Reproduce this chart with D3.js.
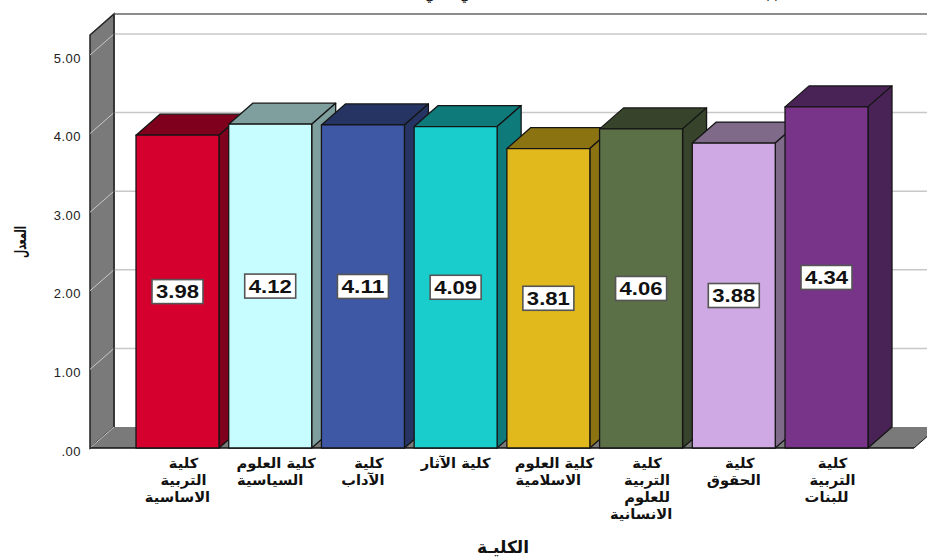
<!DOCTYPE html>
<html>
<head>
<meta charset="utf-8">
<script src="https://cdn.jsdelivr.net/npm/d3@7"></script>
<style>
  html, body { margin: 0; padding: 0; background: #fff; }
  svg { display: block; }
</style>
</head>
<body>
<div id="chart"></div>
<script>
// values
const categories = ["basic", "politics", "arts", "archaeology", "islamic", "humanities", "law", "girls"];
const values = [3.98, 4.12, 4.11, 4.09, 3.81, 4.06, 3.88, 4.34];
const categoryLines = [
  ["كلية", "التربية", "الاساسية"],
  ["كلية العلوم", "السياسية"],
  ["كلية", "الآداب"],
  ["كلية الآثار"],
  ["كلية العلوم", "الاسلامية"],
  ["كلية", "التربية", "للعلوم", "الانسانية"],
  ["كلية", "الحقوق"],
  ["كلية", "التربية", "للبنات"]
];
const frontColors = ["#d6002f", "#c8fdff", "#3e58a5", "#19cdcd", "#e1b91c", "#5c7048", "#cfa9e3", "#783489"];
const sideColors = ["#7f001c", "#7f9f9f", "#253463", "#0f7a7a", "#8c7312", "#37432b", "#7f6a8a", "#4a2356"];
const yTicks = [0, 1, 2, 3, 4, 5];
const xTitle = "الكليـة";
const yTitle = "المعدل";

const width = 927,
  height = 559,
  dx = 24, // depth of the 3D box
  dy = 21,
  wallTop = 35, // front edge of the side wall
  floorRight = 914;

const svg = d3.select("#chart").append("svg")
  .attr("width", width)
  .attr("height", height)
  .attr("viewBox", [0, 0, width, height].join(" "));

const xScale = d3.scaleBand()
  .domain(categories)
  .range([136, 868])
  .paddingInner(0.105);

const yScale = d3.scaleLinear()
  .domain([0, 5])
  .range([448, 55]);

const y0 = yScale(0),
  x0 = 90;

const poly = pts => pts.map(p => p.join(",")).join(" ");

// title is cut off by the top edge, only the low strokes show
svg.append("g")
  .attr("font-family", "'DejaVu Sans', sans-serif")
  .attr("font-size", 13)
  .attr("fill", "#111")
  .attr("text-anchor", "middle")
  .selectAll("text")
  .data([[430, "ي"], [465, "ي"], [772, "( )"]])
  .join("text")
  .attr("x", d => d[0])
  .attr("y", 0)
  .text(d => d[1]);

// side wall
svg.append("polygon")
  .attr("points", poly([[x0, wallTop], [x0 + dx, wallTop - dy], [x0 + dx, y0 - dy], [x0, y0]]))
  .attr("fill", "#7a7a7a")
  .attr("stroke", "#222")
  .attr("stroke-width", 1.5);

// floor
svg.append("polygon")
  .attr("points", poly([[x0, y0], [floorRight, y0], [floorRight + dx, y0 - dy], [x0 + dx, y0 - dy]]))
  .attr("fill", "#7a7a7a");

// grid on the back wall and down the side wall
const grid = svg.append("g").attr("stroke", "#c8c8c8").attr("stroke-width", 1.5);
grid.selectAll(".back")
  .data(yTicks.filter(d => d > 0))
  .join("line")
  .attr("class", "back")
  .attr("x1", x0 + dx)
  .attr("x2", width)
  .attr("y1", d => yScale(d) - dy)
  .attr("y2", d => yScale(d) - dy);
grid.selectAll(".side")
  .data(yTicks)
  .join("line")
  .attr("class", "side")
  .attr("x1", x0)
  .attr("x2", x0 + dx)
  .attr("y1", d => yScale(d))
  .attr("y2", d => yScale(d) - dy)
  .attr("stroke-width", 1);

// top border of the back wall, and the edges
svg.append("line")
  .attr("x1", x0 + dx).attr("x2", width)
  .attr("y1", wallTop - dy).attr("y2", wallTop - dy)
  .attr("stroke", "#666").attr("stroke-width", 1.5);
svg.append("line")
  .attr("x1", x0 + dx).attr("x2", x0 + dx)
  .attr("y1", wallTop - dy).attr("y2", y0 - dy)
  .attr("stroke", "#333").attr("stroke-width", 1.5);
svg.append("line")
  .attr("x1", x0).attr("x2", floorRight)
  .attr("y1", y0).attr("y2", y0)
  .attr("stroke", "#111").attr("stroke-width", 1.5);
svg.append("line")
  .attr("x1", floorRight).attr("x2", floorRight + dx)
  .attr("y1", y0).attr("y2", y0 - dy)
  .attr("stroke", "#111").attr("stroke-width", 1);

// bars, left to right so each front hides the previous side
const data = categories.map((c, i) => ({
  c, v: values[i], front: frontColors[i], side: sideColors[i], lines: categoryLines[i]
}));

const bars = svg.append("g").selectAll("g").data(data).join("g")
  .attr("stroke", "#151515")
  .attr("stroke-width", 1.3)
  .attr("stroke-linejoin", "round");

bars.append("polygon") // top
  .attr("fill", d => d.side)
  .attr("points", d => {
    const l = xScale(d.c), r = l + xScale.bandwidth(), t = yScale(d.v);
    return poly([[l, t], [l + dx, t - dy], [r + dx, t - dy], [r, t]]);
  });
bars.append("polygon") // right side
  .attr("fill", d => d.side)
  .attr("points", d => {
    const r = xScale(d.c) + xScale.bandwidth(), t = yScale(d.v);
    return poly([[r, t], [r + dx, t - dy], [r + dx, y0 - dy], [r, y0]]);
  });
bars.append("rect") // front
  .attr("fill", d => d.front)
  .attr("x", d => xScale(d.c))
  .attr("y", d => yScale(d.v))
  .attr("width", xScale.bandwidth())
  .attr("height", d => y0 - yScale(d.v));

// value labels in white boxes at the middle of each bar
const labels = svg.append("g").selectAll("g").data(data).join("g")
  .attr("transform", d => `translate(${xScale(d.c) + xScale.bandwidth() / 2},${yScale(d.v / 2)})`);
labels.append("rect")
  .attr("x", -25.5).attr("y", -12).attr("width", 51).attr("height", 24)
  .attr("fill", "#fff").attr("stroke", "#555").attr("stroke-width", 1.6);
labels.append("text")
  .attr("text-anchor", "middle")
  .attr("dy", "0.36em")
  .attr("font-family", "'Liberation Sans', Arial, sans-serif")
  .attr("font-weight", "bold")
  .attr("font-size", 18)
  .attr("textLength", 43)
  .attr("lengthAdjust", "spacingAndGlyphs")
  .attr("fill", "#111")
  .text(d => d.v.toFixed(2));

// y axis labels only, the wall stands in for the axis line
const yAxis = svg.append("g")
  .attr("transform", `translate(${x0},0)`)
  .call(d3.axisLeft(yScale)
    .tickValues(yTicks)
    .tickSize(0)
    .tickPadding(9)
    .tickFormat(d => d === 0 ? ".00" : d3.format(".2f")(d)));
yAxis.select(".domain").remove();
yAxis.selectAll("text")
  .attr("font-family", "'Liberation Sans', Arial, sans-serif")
  .attr("font-size", 13)
  .attr("letter-spacing", "0.5px")
  .attr("fill", "#222")
  .attr("dy", "0.55em");

// category labels, lines before the last sit a bit to the right
// the reference text is wider than it is tall, so stretch it sideways
const catLabels = svg.append("g")
  .attr("font-family", "'DejaVu Sans', sans-serif")
  .attr("font-size", 14)
  .attr("font-weight", "bold")
  .attr("fill", "#111")
  .attr("text-anchor", "middle");
data.forEach(d => {
  catLabels.selectAll(null)
    .data(d.lines)
    .enter()
    .append("text")
    .attr("transform", (l, i) => {
      const cx = xScale(d.c) + xScale.bandwidth() / 2 + (i < d.lines.length - 1 ? 6 : 0);
      return `translate(${cx},${468 + i * 17}) scale(1.05,1)`;
    })
    .text(l => l);
});

// axis titles
svg.append("text")
  .attr("x", 503).attr("y", 553)
  .attr("text-anchor", "middle")
  .attr("font-family", "'DejaVu Sans', sans-serif")
  .attr("font-weight", "bold")
  .attr("font-size", 17)
  .attr("fill", "#111")
  .text(xTitle);
svg.append("text")
  .attr("transform", "translate(26,242) rotate(-90)")
  .attr("text-anchor", "middle")
  .attr("font-family", "'DejaVu Sans', sans-serif")
  .attr("font-weight", "bold")
  .attr("font-size", 16)
  .attr("textLength", 32)
  .attr("lengthAdjust", "spacingAndGlyphs")
  .attr("fill", "#111")
  .text(yTitle);
</script>
</body>
</html>
